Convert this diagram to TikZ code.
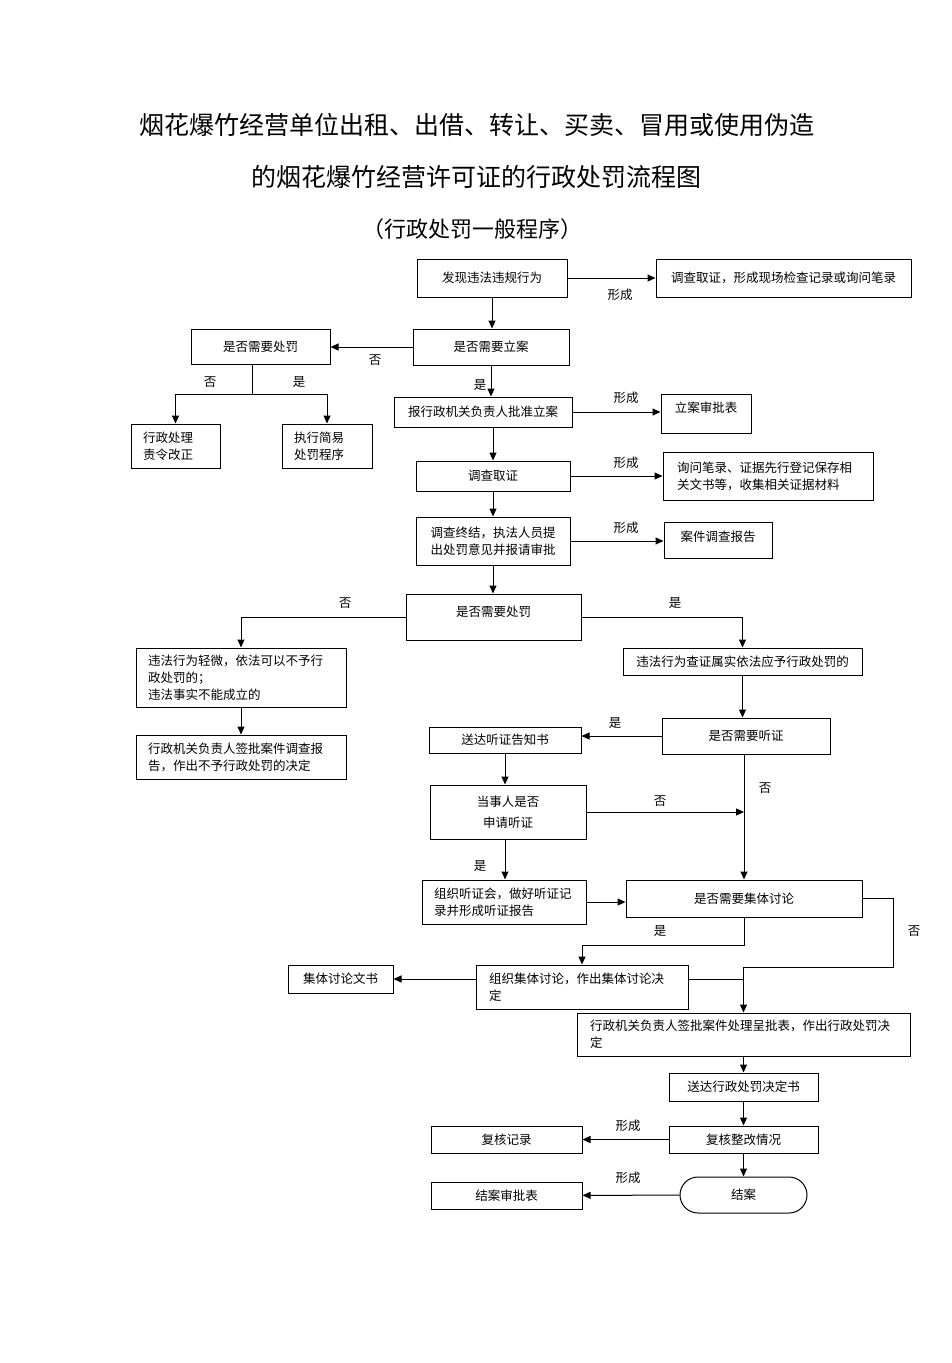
\documentclass[tikz,border=0pt]{standalone}
\usepackage{fontspec}
\setmainfont{Noto Sans CJK SC}
\usetikzlibrary{arrows.meta}
\tikzset{
	box/.style={draw, line width=1pt, inner sep=0pt, align=center, font=\fontsize{12.5}{17}\selectfont},
	lbox/.style={box, align=left},
	ttl/.style={inner sep=0pt, font=\fontsize{25}{28}\selectfont},
	lbl/.style={inner sep=0pt, font=\fontsize{12.5}{15}\selectfont},
	ln/.style={line width=1pt},
	arr/.style={line width=1pt, -{Triangle[length=8pt,width=7pt]}},
}

\begin{document}
\begin{tikzpicture}[x=1pt, y=-1pt]
			%%%%% START %%%%%
			\useasboundingbox (0, 0) rectangle (952, 1363);
			
			\node[ttl] (t1) at (477, 125) {烟花爆竹经营单位出租、出借、转让、买卖、冒用或使用伪造};
			\node[ttl] (t2) at (476, 177) {的烟花爆竹经营许可证的行政处罚流程图};
			\node[ttl, font=\fontsize{22}{24}\selectfont] (t3) at (472, 229) {（行政处罚一般程序）};
			
			\node[box, minimum width=150pt, minimum height=38pt] (b1) at (492, 278) {发现违法违规行为};
			\node[box, minimum width=255pt, minimum height=38pt] (r1) at (783.5, 278) {调查取证，形成现场检查记录或询问笔录};
			\node[box, minimum width=156pt, minimum height=36pt] (b2) at (491, 347) {是否需要立案};
			\node[box, minimum width=139pt, minimum height=35pt] (b3) at (260.5, 347) {是否需要处罚};
			\node[lbox, text width=65pt, minimum width=89pt, minimum height=44pt] (l1) at (175.5, 446) {行政处理\\责令改正};
			\node[lbox, text width=66pt, minimum width=90pt, minimum height=44pt] (l2) at (327, 446) {执行简易\\处罚程序};
			\node[box, minimum width=178pt, minimum height=30pt] (b4) at (483, 412) {报行政机关负责人批准立案};
			\node[box, minimum width=90pt, minimum height=39pt, text depth=13.5pt] (r2) at (706, 413.5) {立案审批表};
			\node[box, minimum width=154pt, minimum height=30pt] (b5) at (493, 476) {调查取证};
			\node[lbox, text width=182pt, minimum width=210pt, minimum height=48pt] (r3) at (768, 476) {询问笔录、证据先行登记保存相\\关文书等，收集相关证据材料};
			\node[box, minimum width=154pt, minimum height=48pt] (b6) at (493, 541) {调查终结，执法人员提\\出处罚意见并报请审批};
			\node[box, minimum width=108pt, minimum height=36pt, text depth=7.5pt] (r4) at (718, 540) {案件调查报告};
			\node[box, minimum width=175pt, minimum height=46pt, text depth=11.5pt] (b7) at (493.5, 617) {是否需要处罚};
			
			\node[lbox, text width=186pt, minimum width=210pt, minimum height=59pt] (l3) at (241, 677.5) {违法行为轻微，依法可以不予行\\政处罚的；\\违法事实不能成立的};
			\node[lbox, text width=186pt, minimum width=210pt, minimum height=44pt] (l4) at (241, 757) {行政机关负责人签批案件调查报\\告，作出不予行政处罚的决定};
			\node[box, minimum width=239pt, minimum height=27pt] (r5) at (742.5, 661.5) {违法行为查证属实依法应予行政处罚的};
			\node[box, minimum width=168pt, minimum height=36pt] (r6) at (746, 736) {是否需要听证};
			\node[box, minimum width=152pt, minimum height=26pt] (m1) at (505, 740) {送达听证告知书};
			\node[box, minimum width=156pt, minimum height=54pt, font=\fontsize{12.5}{21}\selectfont] (m2) at (508, 812) {当事人是否\\申请听证};
			\node[lbox, text width=140pt, minimum width=164pt, minimum height=44pt] (m3) at (504, 902) {组织听证会，做好听证记\\录并形成听证报告};
			\node[box, minimum width=236pt, minimum height=37pt] (c1) at (744, 898.5) {是否需要集体讨论};
			\node[lbox, text width=186pt, minimum width=212pt, minimum height=44pt] (m4) at (582, 987) {组织集体讨论，作出集体讨论决\\定};
			\node[box, minimum width=105pt, minimum height=28pt] (d1) at (340.5, 979) {集体讨论文书};
			\node[lbox, text width=307pt, minimum width=333pt, minimum height=43pt] (f1) at (743.5, 1034.5) {行政机关负责人签批案件处理呈批表，作出行政处罚决\\定};
			\node[box, minimum width=149pt, minimum height=28pt] (f2) at (743.5, 1087) {送达行政处罚决定书};
			\node[box, minimum width=149pt, minimum height=27pt] (f3) at (743.5, 1139.5) {复核整改情况};
			\node[box, minimum width=151pt, minimum height=27pt] (g1) at (506.5, 1139.5) {复核记录};
			\node[box, minimum width=127pt, minimum height=36pt, rounded corners=18pt] (f4) at (743.5, 1195) {结案};
			\node[box, minimum width=151pt, minimum height=27pt] (g2) at (506.5, 1195.5) {结案审批表};
			
			\coordinate (j1) at (252, 394);
			\coordinate (j2) at (744, 945);
			\coordinate (j3) at (893, 967);
			
			\draw[arr] (b1) -- (r1);
			\draw[arr] (b1.south) -- (b1.south |- b2.north);
			\draw[arr] (b2.west) -- (b3.east);
			\draw[ln] (b3.south -| j1) -- (j1);
			\draw[arr] (j1) -| (l1.north);
			\draw[arr] (j1) -| (l2.north);
			\draw[arr] (b2.south) -- (b2.south |- b4.north);
			\draw[arr] (b4.east) -- (b4.east -| r2.west);
			\draw[arr] (b5.north |- b4.south) -- (b5.north);
			\draw[arr] (b5) -- (r3);
			\draw[arr] (b5) -- (b6);
			\draw[arr] (b6.east) -- (b6.east -| r4.west);
			\draw[arr] (b6.south) -- (b6.south |- b7.north);
			\draw[arr] (b7.west) -| (l3.north);
			\draw[arr] (b7.east) -| (r5.north);
			\draw[arr] (l3) -- (l4);
			\draw[arr] (r5.south) -- (r5.south |- r6.north);
			\draw[arr] (r6.west) -- (r6.west -| m1.east);
			\draw[arr] (r6.south -| c1) -- (c1.north);
			\draw[arr] (m1.south) -- (m1.south |- m2.north);
			\draw[arr] (m2.east) -- (m2.east -| c1);
			\draw[arr] (m1.south |- m2.south) -- (m1.south |- m3.north);
			\draw[arr] (m3.east) -- (c1.west |- m3.east);
			\draw[arr] (c1.south) -- (j2) -| (m4.north);
			\draw[arr] (m4.west |- d1) -- (d1.east);
			\draw[ln] (m4.east |- d1) -- (c1 |- d1);
			\draw[arr] (c1.east) -| (j3) -| (f1.north);
			\draw[arr] (f1) -- (f2);
			\draw[arr] (f2) -- (f3);
			\draw[arr] (f3) -- (g1);
			\draw[arr] (f3) -- (f4);
			\draw[arr] (f4) -- (g2);
			
			\node[lbl] (n1) at (620, 295) {形成};
			\node[lbl] (n2) at (375, 360) {否};
			\node[lbl] (n3) at (210, 382) {否};
			\node[lbl] (n4) at (299, 382) {是};
			\node[lbl] (n5) at (480, 385) {是};
			\node[lbl] (n6) at (626, 398) {形成};
			\node[lbl] (n7) at (626, 463) {形成};
			\node[lbl] (n8) at (626, 528) {形成};
			\node[lbl] (n9) at (345, 603) {否};
			\node[lbl] (n10) at (675, 603) {是};
			\node[lbl] (n11) at (615, 723) {是};
			\node[lbl] (n12) at (765, 788) {否};
			\node[lbl] (n13) at (660, 801) {否};
			\node[lbl] (n14) at (480, 866) {是};
			\node[lbl] (n15) at (660, 931) {是};
			\node[lbl] (n16) at (914, 931) {否};
			\node[lbl] (n17) at (628, 1126) {形成};
			\node[lbl] (n18) at (628, 1178) {形成};
			
			%%%%% END %%%%%
\end{tikzpicture}
\end{document}
